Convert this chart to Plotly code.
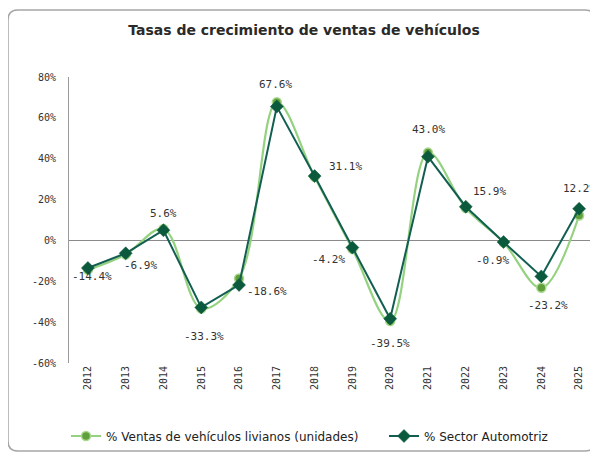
import plotly.graph_objects as go

years = ["2012", "2013", "2014", "2015", "2016", "2017", "2018",
         "2019", "2020", "2021", "2022", "2023", "2024", "2025"]
ventas_livianos = [-14.4, -6.9, 5.6, -33.3, -18.6, 67.6, 31.1,
                   -4.2, -39.5, 43.0, 15.9, -0.9, -23.2, 12.2]
sector_automotriz = [-13.5, -6.3, 5.0, -32.8, -21.8, 65.5, 31.5,
                     -3.5, -38.3, 41.0, 16.5, -0.8, -17.6, 15.5]
y_ticks = [-60, -40, -20, 0, 20, 40, 60, 80]
y_ticktext = ["-60%", "-40%", "-20%", "0%", "20%", "40%", "60%", "80%"]

# pixel offsets of the data labels of the light-vehicle series
label_dx = [4, 15, 0, 3, 28, -1, 31, -24, 0, 1, 24, -11, 7, 0]
label_dy = [-7, -11, 15, -28, -13, 18, 10, -10, -22, 23, 16, -18, -18, 27]

OFF = 8  # page body margin offset
W, H = 598 - OFF, 454 - OFF
l, r, t, b = 69 - OFF, 0, 77 - OFF, 454 - 363
pw, ph = W - l - r, H - t - b
def px(x):
    return (x - OFF - l) / pw
def py(y):
    return (H - b - (y - OFF)) / ph

fig = go.Figure()
fig.add_trace(go.Scatter(
    x=years, y=ventas_livianos, mode="lines+markers",
    name="% Ventas de vehículos livianos (unidades)", legend="legend",
    line=dict(color="#95d280", width=2.2, shape="spline", smoothing=1),
    marker=dict(symbol="circle", size=9, color="#5f9f3c",
                line=dict(color="#a9d98f", width=1.5)),
))
fig.add_trace(go.Scatter(
    x=years, y=sector_automotriz, mode="lines+markers",
    name="% Sector Automotriz", legend="legend2",
    line=dict(color="#125f52", width=2),
    marker=dict(symbol="diamond", size=10, color="#0c5a3e",
                line=dict(color="#0c5a3e", width=0.5)),
))

annotations = []
for i, (v, dx, dy) in enumerate(zip(ventas_livianos, label_dx, label_dy)):
    annotations.append(dict(x=i, y=v, xref="x", yref="y", text=f"{v:.1f}%",
                            showarrow=False, xshift=dx, yshift=dy,
                            font=dict(family="DejaVu Sans Mono", size=11, color="#333333")))

x0, x1, y0, y1, rad = 8, 595, 10, 451, 10
path = (f"M {px(x0+rad)},{py(y0)} L {px(x1-rad)},{py(y0)} "
        f"Q {px(x1)},{py(y0)} {px(x1)},{py(y0+rad)} "
        f"L {px(x1)},{py(y1-rad)} Q {px(x1)},{py(y1)} {px(x1-rad)},{py(y1)} "
        f"L {px(x0+rad)},{py(y1)} Q {px(x0)},{py(y1)} {px(x0)},{py(y1-rad)} "
        f"L {px(x0)},{py(y0+rad)} Q {px(x0)},{py(y0)} {px(x0+rad)},{py(y0)} Z")
fig.add_shape(type="path", path=path, xref="paper", yref="paper",
              line=dict(color="#a6a6a6", width=1.5), layer="below")

legend_font = dict(family="DejaVu Sans", size=12, color="#222222")
fig.update_layout(
    width=W, height=H,
    annotations=annotations,
    margin=dict(l=l, r=r, t=t, b=b, autoexpand=False),
    paper_bgcolor="white", plot_bgcolor="white",
    title=dict(text="<b>Tasas de crecimiento de ventas de vehículos</b>",
               x=(304 - OFF) / W, xanchor="center", y=1 - (30 - OFF) / H, yanchor="middle",
               font=dict(family="DejaVu Sans", size=14, color="#2a2a2a")),
    showlegend=True,
    legend=dict(orientation="h", x=px(66), xanchor="left", y=py(436), yanchor="middle",
                font=legend_font, itemwidth=30, bgcolor="rgba(0,0,0,0)"),
    legend2=dict(orientation="h", x=px(384), xanchor="left", y=py(436), yanchor="middle",
                 font=legend_font, itemwidth=30, bgcolor="rgba(0,0,0,0)"),
    xaxis=dict(type="category", showgrid=False, showline=False, zeroline=False,
               tickangle=-90, ticks="", range=[-0.5, 13.5], automargin=False,
               tickfont=dict(family="DejaVu Sans Mono", size=10, color="#333333")),
    yaxis=dict(range=[-60, 80], tickvals=y_ticks, ticktext=y_ticktext, automargin=False,
               showgrid=False, showline=True, linecolor="#9a9a9a", linewidth=1,
               zeroline=True, zerolinecolor="#8a8a8a", zerolinewidth=1.2,
               ticks="outside", ticklen=10, tickcolor="rgba(0,0,0,0)",
               tickfont=dict(family="DejaVu Sans Mono", size=10, color="#333333")),
)

fig.write_html("out.html")
